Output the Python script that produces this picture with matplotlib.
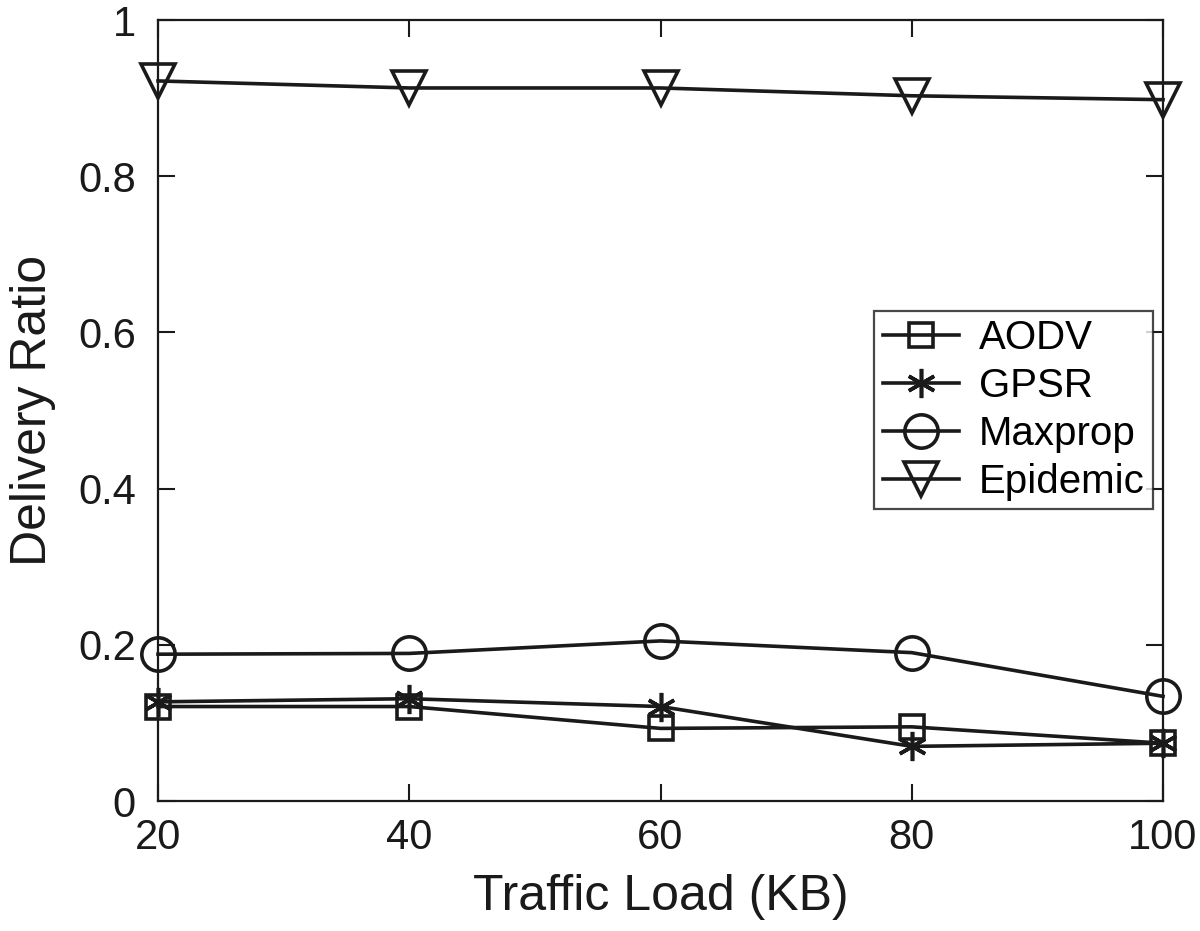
import matplotlib
matplotlib.use("Agg")
import matplotlib.pyplot as plt
from matplotlib.lines import Line2D

plt.rcParams['font.family'] = ['Liberation Sans', 'DejaVu Sans']

x = [20, 40, 60, 80, 100]
aodv = [0.121, 0.121, 0.093, 0.095, 0.074]
gpsr = [0.127, 0.131, 0.121, 0.070, 0.074]
maxprop = [0.188, 0.189, 0.205, 0.190, 0.134]
epidemic = [0.922, 0.913, 0.913, 0.903, 0.898]
names = ['AODV', 'GPSR', 'Maxprop', 'Epidemic']

fig = plt.figure(figsize=(12, 9.31), dpi=100)
ax = fig.add_axes([0.1317, 0.1396, 0.8375, 0.8389])

c = '#1a1a1a'
lw = 2.6
mew = 2.6
styles = [
    dict(marker='s', ms=17),
    dict(marker=(6, 2, 0), ms=21),
    dict(marker='o', ms=24),
    dict(marker='v', ms=25),
]
for ys, st in zip([aodv, gpsr, maxprop, epidemic], styles):
    ax.plot(x, ys, color=c, lw=lw, mfc='none', mec=c, mew=mew, clip_on=False, zorder=3, **st)

handles = [Line2D([], [], color=c, lw=lw, mfc='none', mec=c, mew=mew, **st) for st in styles]
leg = ax.legend(handles, names,
                loc='upper right', bbox_to_anchor=(0.990, 0.628),
                fontsize=29, frameon=True, fancybox=False, edgecolor=c,
                handlelength=1.9, handletextpad=0.5, borderpad=0.2, labelspacing=0.25,
                borderaxespad=0)
leg.get_frame().set_linewidth(1.6)

ax.set_xlim(20, 100)
ax.set_ylim(0, 1)
ax.set_xticks([20, 40, 60, 80, 100])
ax.set_yticks([0, 0.2, 0.4, 0.6, 0.8, 1])
ax.set_yticklabels(['0', '0.2', '0.4', '0.6', '0.8', '1'])
ax.tick_params(direction='in', length=12, width=1.5, labelsize=30, top=True, right=True, colors=c)
ax.tick_params(axis='x', pad=12)
ax.tick_params(axis='y', pad=16)
for s in ax.spines.values():
    s.set_linewidth(1.6)
    s.set_color(c)
ax.set_xlabel('Traffic Load (KB)', fontsize=36, labelpad=12, color=c)
ax.set_ylabel('Delivery Ratio', fontsize=36, labelpad=16, color=c)

fig.savefig('out.png', dpi=100)
